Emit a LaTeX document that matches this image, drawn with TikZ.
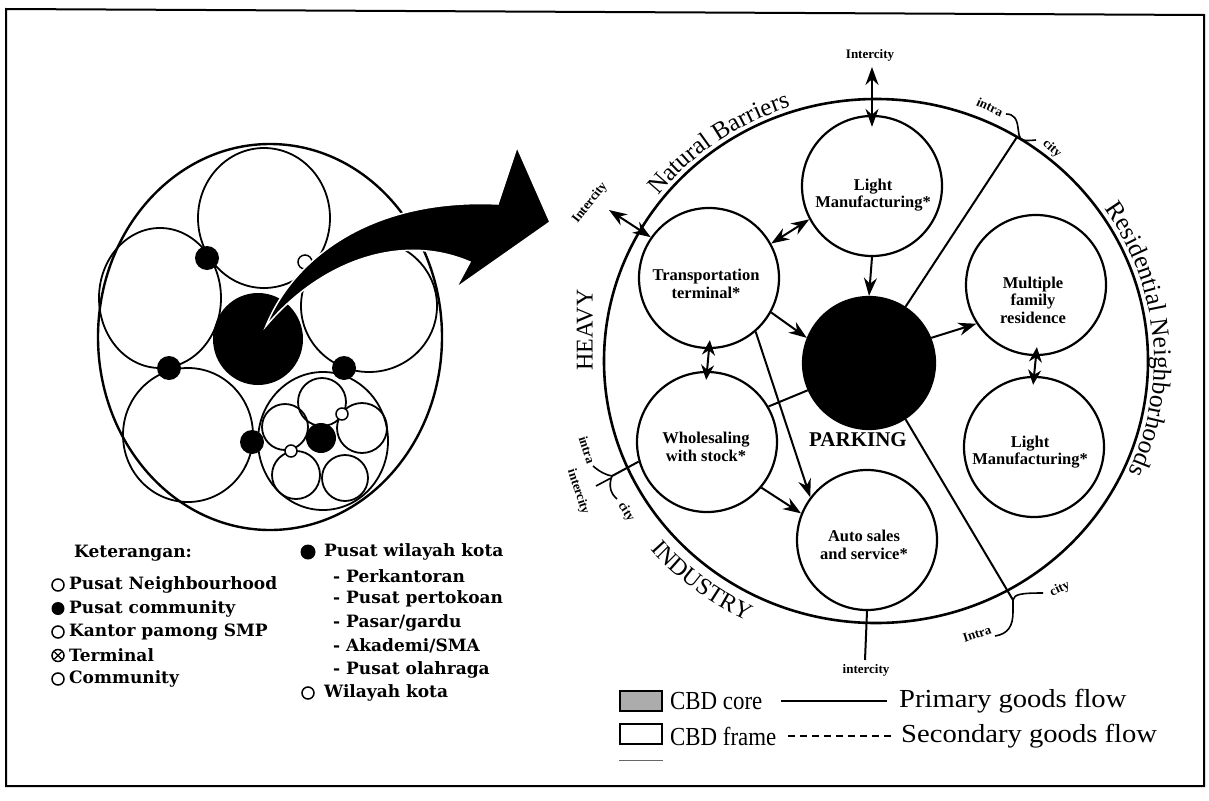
\documentclass[tikz,border=0pt]{standalone}
\usepackage{fontspec}
\setmainfont{Liberation Serif}
\newfontfamily\legfont{DejaVu Serif}
\usetikzlibrary{arrows.meta,decorations.text,calc}
\begin{document}
\begin{tikzpicture}[x=1pt,y=-1pt,
  lring/.style={draw, line width=1.8pt},
  zone/.style={circle, draw, line width=2.2pt, inner sep=0pt, minimum size=140pt},
  flow/.style={line width=2pt, -{Stealth[length=18pt,width=13pt]}},
  dflow/.style={line width=2pt, {Stealth[length=18pt,width=13pt]}-{Stealth[length=18pt,width=13pt]}},
  spindle/.style={line width=2pt, {Stealth[length=15pt,width=13pt]}-{Stealth[length=15pt,width=13pt]}, shorten <=-9pt, shorten >=-9pt},
  road/.style={line width=2pt},
  lbl/.style={font=\bfseries\fontsize{16.5}{17.5}\selectfont, align=center, inner sep=0pt},
  tinylbl/.style={font=\bfseries\fontsize{13}{13}\selectfont, inner sep=0pt},
  bigl/.style={font=\fontsize{24}{24}\selectfont, inner sep=0pt},
  legl/.style={font=\legfont\bfseries\fontsize{17}{17}\selectfont, anchor=west, inner sep=0pt},
  legr/.style={font=\fontsize{26}{26}\selectfont, anchor=west, inner sep=0pt},
  wsym/.style={draw, line width=1.5pt, fill=white},
]
\useasboundingbox (0,0) rectangle (1209,800);
\fill[white] (0,0) rectangle (1209,800);
\draw[line width=2pt] (6,9) -- (1204,15) -- (1204,786) -- (6,786) -- cycle;

% ---------------- left diagram ----------------
\draw[line width=2.4pt] (270,337) ellipse [x radius=172, y radius=193];
\draw[lring] (264,218) ellipse [x radius=66, y radius=70];
\draw[lring] (160,298) ellipse [x radius=61, y radius=70];
\draw[lring] (369,306) ellipse [x radius=68, y radius=66];
\draw[lring] (188,435) ellipse [x radius=65, y radius=67];
\draw[lring] (323,441) ellipse [x radius=65, y radius=69];
\fill (258,339) ellipse [x radius=45, y radius=46];
\draw[lring] (322,402) circle [radius=24];
\draw[lring] (285,427) circle [radius=23];
\draw[lring] (362,428) circle [radius=25];
\draw[lring] (296,475) circle [radius=24];
\draw[lring] (345,478) circle [radius=23];
\filldraw[wsym] (342,414) circle [radius=6];
\filldraw[wsym] (291,451) circle [radius=6];
\fill (321,438) circle [radius=15];
\fill (207,258) circle [radius=12];
\fill (169,368) circle [radius=12];
\fill (344,368) circle [radius=12];
\fill (252,442) circle [radius=12];
\filldraw[wsym] (305,262) circle [radius=7];
% big curved arrow
\filldraw[draw=white, line width=1.5pt, fill=black]
  (266,326) .. controls (295,255) and (375,198) .. (498,204)
  -- (517,147) -- (550,222) -- (456,288) -- (470,262)
  .. controls (400,232) and (320,262) .. (266,326) -- cycle;

% left legend
\node[legl] (ket) at (74,553) {Keterangan:};
\draw[line width=1.5pt] (58,585) circle [radius=6];
\node[legl] (l1) at (69,585) {Pusat Neighbourhood};
\fill (58,608.5) circle [radius=6.5];
\node[legl] (l2) at (69,608.5) {Pusat community};
\draw[line width=1.5pt] (58,632) circle [radius=6];
\node[legl] (l3) at (69,632) {Kantor pamong SMP};
\draw[line width=1.5pt] (58,655.5) circle [radius=6];
\draw[line width=1.2pt] (54.5,659) -- (61.5,652) (54.5,652) -- (61.5,659);
\node[legl] (l4) at (69,655.5) {Terminal};
\draw[line width=1.5pt] (58,679) circle [radius=6];
\node[legl] (l5) at (69,679) {Community};

\fill (308,552) circle [radius=7.5];
\node[legl] (r0) at (324,552) {Pusat wilayah kota};
\node[legl] (r1) at (333,576) {- Perkantoran};
\node[legl] (r2) at (333,599) {- Pusat pertokoan};
\node[legl] (r3) at (333,623) {- Pasar/gardu};
\node[legl] (r4) at (333,646) {- Akademi/SMA};
\node[legl] (r5) at (333,670) {- Pusat olahraga};
\draw[line width=1.5pt] (308,693) circle [radius=6];
\node[legl] (r6) at (324,693) {Wilayah kota};

% ---------------- right diagram ----------------
\draw[line width=2.6pt] (876,361) ellipse [x radius=272, y radius=262];

\node[zone] (lmt) at (872,186) {};
\node[zone] (tt) at (709,278) {};
\node[zone] (ws) at (707,442) {};
\node[zone, fill=black, minimum size=132pt] (pk) at (869,363) {};
\node[zone] (mf) at (1036,285) {};
\node[zone] (lmb) at (1034,447) {};
\node[zone] (as) at (867,540) {};

\node[lbl] (tlmt) at (873,195) {Light\\Manufacturing*};
\node[lbl] (ttt) at (706,284) {Transportation\\terminal*};
\node[lbl] (tws) at (706,447) {Wholesaling\\with stock*};
\node[lbl] (tmf) at (1033,300) {Multiple\\family\\residence};
\node[lbl] (tlmb) at (1030,452) {Light\\Manufacturing*};
\node[lbl] (tas) at (864,545) {Auto sales\\and service*};
\node[font=\bfseries\fontsize{21}{21}\selectfont, inner sep=0pt] (tpk) at (858,440) {PARKING};

% roads
\coordinate (rtr) at (1017,137);
\coordinate (rbr) at (1013,600);
\coordinate (rbl) at (612,476);
\draw[road] (pk.57) -- (rtr);
\draw[road] (pk.-57) -- (rbr);
\draw[road] (rbl) -- (ws.196);
\draw[road] (ws.30) -- (pk.204);

% flows
\coordinate (icT) at (872,67);
\coordinate (icL) at (609,210);
\coordinate (icB) at (865,660);
\draw[dflow, shorten >=-12pt] (icT) -- (lmt.north);
\draw[dflow] (icL) -- (tt.145);
\draw[dflow] (tt.29) -- (lmt.208);
\draw[flow] (lmt.south) -- (pk.north);
\draw[flow] (tt.-29) -- (pk.158);
\draw[flow] (pk.22) -- (mf.213);
\draw[spindle] (mf.south) -- (lmb.north);
\draw[spindle] (tt.south) -- (ws.north);
\draw[flow] (tt.-49) -- (as.143);
\draw[flow] (ws.-40) -- (as.158);
\draw[road] (as.south) -- (icB);

% small labels
\node[tinylbl] (licT) at (870,55) {Intercity};
\node[tinylbl, rotate=52] (licL) at (590,203) {Intercity};
\node[tinylbl] (licB) at (866,670) {intercity};
\node[tinylbl, rotate=-25] (ltr1) at (990,107) {intra};
\node[tinylbl, rotate=-42] (ltr2) at (1052,149) {city};
\draw[line width=1.6pt] (1006,114) .. controls (1014,114) and (1017,119) .. (1018,128)
  -- (1019,135) .. controls (1020,141) and (1025,141) .. (1036,140);
\node[tinylbl, rotate=-72] (lbl1) at (587,450) {intra};
\node[tinylbl, rotate=-72] (lbl2) at (578,492) {intercity};
\node[tinylbl, rotate=-58] (lbl3) at (626,512) {city};
\draw[line width=1.6pt] (593,466) .. controls (600,472) and (606,475) .. (612,476);
\draw[line width=1.6pt] (612,476) .. controls (608,486) and (611,494) .. (617,499);
\draw[line width=1.6pt] (596,486) -- (611,478);
\node[tinylbl, rotate=25] (lbr1) at (1060,589) {city};
\node[tinylbl, rotate=18] (lbr2) at (977,634) {Intra};
\draw[line width=1.6pt] (995,636) .. controls (1008,634) and (1013,626) .. (1013,612)
  -- (1013,600) .. controls (1014,594) and (1022,593) .. (1043,593);

% sector labels
\node[bigl, rotate=90] (lheavy) at (585,330) {HEAVY};
\path[decorate, decoration={text along path, text align=center,
   text format delimiters={|}{|}, text={|\fontsize{25}{25}\selectfont|Natural Barriers}}]
  (876,361) ++(-152:277 and 267) arc [start angle=-152, end angle=-98, x radius=277, y radius=267];
\path[decorate, decoration={text along path, text align=center,
   text format delimiters={|}{|}, text={|\fontsize{25.5}{25.5}\selectfont|Residential Neighborhoods}}]
  (876,361) ++(-42:278 and 268) arc [start angle=-42, end angle=32, x radius=278, y radius=268];
\path[decorate, decoration={text along path, text align=center,
   text format delimiters={|}{|}, text={|\fontsize{24}{24}\selectfont|INDUSTRY}}]
  (876,361) ++(147:298 and 288) arc [start angle=147, end angle=108, x radius=298, y radius=288];

% ---------------- right legend ----------------
\node[draw, line width=1.5pt, fill=gray!65, minimum width=42pt, minimum height=20pt, inner sep=0pt] (kcore) at (641,701) {};
\node[draw, line width=1.5pt, minimum width=42pt, minimum height=20pt, inner sep=0pt] (kframe) at (641,734) {};
\draw[line width=1pt, black!60] ([yshift=-16pt]kframe.south west) -- ([yshift=-16pt]kframe.south east);
\node[legr, xscale=0.88] (tcore) at (670,701) {CBD core};
\node[legr, xscale=0.88] (tframe) at (670,736) {CBD frame};
\draw[line width=1.6pt] (781,701) -- (887,701);
\draw[line width=1.6pt, dash pattern=on 7pt off 5pt] (788,736) -- (895,736);
\node[legr, xscale=1.1] (tprim) at (899,701) {Primary goods flow};
\node[legr, xscale=1.1] (tsec) at (901,736) {Secondary goods flow};
\end{tikzpicture}
\end{document}
